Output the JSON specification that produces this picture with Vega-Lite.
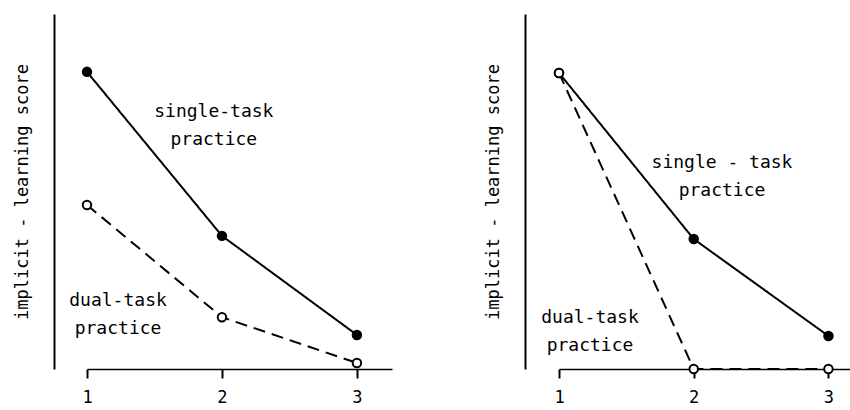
{
  "$schema": "https://vega.github.io/schema/vega-lite/v6.json",
  "background": "white",
  "padding": {"left": 13, "top": 14, "right": 0, "bottom": 0},
  "spacing": 92,
  "config": {
    "view": {"stroke": null},
    "font": "DejaVu Sans Mono",
    "axis": {"labelFont": "DejaVu Sans Mono", "titleFont": "DejaVu Sans Mono", "grid": false, "labelColor": "black", "titleColor": "black", "domainColor": "black", "tickColor": "black"}
  },
  "datasets": {
    "pts": [
      {"panel": "A", "practice": "single-task", "block": 1, "score": 8.37},
      {"panel": "A", "practice": "single-task", "block": 2, "score": 3.75},
      {"panel": "A", "practice": "single-task", "block": 3, "score": 0.96},
      {"panel": "A", "practice": "dual-task", "block": 1, "score": 4.62},
      {"panel": "A", "practice": "dual-task", "block": 2, "score": 1.46},
      {"panel": "A", "practice": "dual-task", "block": 3, "score": 0.17},
      {"panel": "B", "practice": "single-task", "block": 1, "score": 8.34},
      {"panel": "B", "practice": "single-task", "block": 2, "score": 3.66},
      {"panel": "B", "practice": "single-task", "block": 3, "score": 0.93},
      {"panel": "B", "practice": "dual-task", "block": 1, "score": 8.34},
      {"panel": "B", "practice": "dual-task", "block": 2, "score": 0},
      {"panel": "B", "practice": "dual-task", "block": 3, "score": 0}
    ],
    "notes": [
      {"panel": "A", "label": ["single-task", "practice"], "block": 1.94, "score": 7.24},
      {"panel": "A", "label": ["dual-task", "practice"], "block": 1.23, "score": 1.92},
      {"panel": "B", "label": ["single - task", "practice"], "block": 2.21, "score": 5.81},
      {"panel": "B", "label": ["dual-task", "practice"], "block": 1.23, "score": 1.43}
    ]
  },
  "hconcat": [
    {
      "width": 305,
      "height": 355,
      "layer": [
        {
          "data": {"name": "pts"},
          "transform": [{"filter": "datum.panel == 'A'"}],
          "mark": {"type": "line", "color": "black", "strokeWidth": 2},
          "encoding": {
            "x": {"field": "block", "type": "quantitative", "scale": {"domain": [1, 3.26], "nice": false, "zero": false},
                  "axis": {"values": [1, 2, 3], "format": "d", "title": null, "domainWidth": 1.5, "tickWidth": 2, "tickSize": 9, "labelFontSize": 17, "labelPadding": 11, "labelFlush": false}},
            "y": {"field": "score", "type": "quantitative", "scale": {"domain": [0, 10], "nice": false},
                  "axis": {"title": "implicit - learning score", "labels": false, "ticks": false, "domainWidth": 2, "offset": 33, "titleFontSize": 17, "titleFontWeight": "normal", "titlePadding": 23}},
            "strokeDash": {"field": "practice", "type": "nominal", "scale": {"domain": ["single-task", "dual-task"], "range": [[1, 0], [12, 7]]}, "legend": null}
          }
        },
        {
          "data": {"name": "pts"},
          "transform": [{"filter": "datum.panel == 'A'"}],
          "mark": {"type": "point", "shape": "circle", "filled": true, "stroke": "black", "strokeWidth": 2, "size": 72, "opacity": 1},
          "encoding": {
            "x": {"field": "block", "type": "quantitative"},
            "y": {"field": "score", "type": "quantitative"},
            "fill": {"field": "practice", "type": "nominal", "scale": {"domain": ["single-task", "dual-task"], "range": ["black", "white"]}, "legend": null}
          }
        },
        {
          "data": {"name": "notes"},
          "transform": [{"filter": "datum.panel == 'A'"}],
          "mark": {"type": "text", "fontSize": 18, "lineHeight": 28, "align": "center", "baseline": "middle", "color": "black", "font": "DejaVu Sans Mono"},
          "encoding": {
            "x": {"field": "block", "type": "quantitative"},
            "y": {"field": "score", "type": "quantitative"},
            "text": {"field": "label"}
          }
        }
      ]
    },
    {
      "width": 291,
      "height": 355,
      "layer": [
        {
          "data": {"name": "pts"},
          "transform": [{"filter": "datum.panel == 'B'"}],
          "mark": {"type": "line", "color": "black", "strokeWidth": 2},
          "encoding": {
            "x": {"field": "block", "type": "quantitative", "scale": {"domain": [1, 3.16], "nice": false, "zero": false},
                  "axis": {"values": [1, 2, 3], "format": "d", "title": null, "domainWidth": 1.5, "tickWidth": 2, "tickSize": 9, "labelFontSize": 17, "labelPadding": 11, "labelFlush": false}},
            "y": {"field": "score", "type": "quantitative", "scale": {"domain": [0, 10], "nice": false},
                  "axis": {"title": "implicit - learning score", "labels": false, "ticks": false, "domainWidth": 2, "offset": 34, "titleFontSize": 17, "titleFontWeight": "normal", "titlePadding": 23}},
            "strokeDash": {"field": "practice", "type": "nominal", "scale": {"domain": ["single-task", "dual-task"], "range": [[1, 0], [12, 7]]}, "legend": null}
          }
        },
        {
          "data": {"name": "pts"},
          "transform": [{"filter": "datum.panel == 'B'"}],
          "mark": {"type": "point", "shape": "circle", "filled": true, "stroke": "black", "strokeWidth": 2, "size": 72, "opacity": 1},
          "encoding": {
            "x": {"field": "block", "type": "quantitative"},
            "y": {"field": "score", "type": "quantitative"},
            "fill": {"field": "practice", "type": "nominal", "scale": {"domain": ["single-task", "dual-task"], "range": ["black", "white"]}, "legend": null}
          }
        },
        {
          "data": {"name": "notes"},
          "transform": [{"filter": "datum.panel == 'B'"}],
          "mark": {"type": "text", "fontSize": 18, "lineHeight": 28, "align": "center", "baseline": "middle", "color": "black", "font": "DejaVu Sans Mono"},
          "encoding": {
            "x": {"field": "block", "type": "quantitative"},
            "y": {"field": "score", "type": "quantitative"},
            "text": {"field": "label"}
          }
        }
      ]
    }
  ]
}
